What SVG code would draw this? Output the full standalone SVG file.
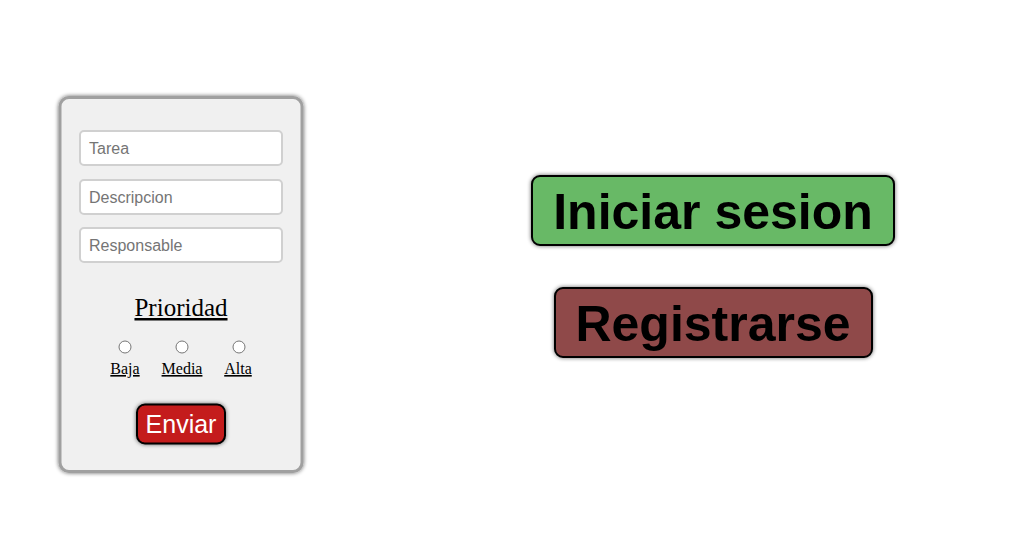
<svg xmlns="http://www.w3.org/2000/svg" width="1028" height="555" viewBox="0 0 1028 555">
<style>
.inp{fill:#fff;stroke:#d0d0d0;stroke-width:2}
.ph{font-family:"Liberation Sans",Arial,sans-serif;font-size:16px;fill:#757575}
.ser{font-family:"Liberation Serif","Times New Roman",serif;fill:#000;text-decoration:underline}
.radio{fill:#fff;stroke:#767676;stroke-width:1}
.btn{stroke:#000;stroke-width:2}
.big{font-family:"Liberation Sans",Arial,sans-serif;font-weight:bold;font-size:50px;fill:#000;text-anchor:middle}
</style>
<defs>
<filter id="sh" x="-20%" y="-20%" width="140%" height="140%">
<feGaussianBlur in="SourceAlpha" stdDeviation="2"/>
<feOffset dx="0" dy="0" result="b"/>
<feComponentTransfer><feFuncA type="linear" slope="0.6"/></feComponentTransfer>
<feMerge><feMergeNode/><feMergeNode in="SourceGraphic"/></feMerge>
</filter>
</defs>
<rect width="1028" height="555" fill="#fff"/>
<g id="card">
<rect x="60" y="97.5" width="242" height="374" rx="9" fill="#f0f0f0" stroke="#a0a0a0" stroke-width="3" filter="url(#sh)"/>
</g>
<g id="input-tarea">
<rect class="inp" x="80" y="131" width="202" height="34" rx="4"/>
<text class="ph" x="89" y="154">Tarea</text>
</g>
<g id="input-descripcion">
<rect class="inp" x="80" y="180" width="202" height="34" rx="4"/>
<text class="ph" x="89" y="203">Descripcion</text>
</g>
<g id="input-responsable">
<rect class="inp" x="80" y="228" width="202" height="34" rx="4"/>
<text class="ph" x="89" y="251">Responsable</text>
</g>
<g id="prioridad">
<text class="ser" x="181" y="316" font-size="25" text-anchor="middle">Prioridad</text>
</g>
<g id="opt-baja">
<circle class="radio" cx="125" cy="347" r="6"/>
<text class="ser" x="125" y="374" font-size="16" text-anchor="middle">Baja</text>
</g>
<g id="opt-media">
<circle class="radio" cx="182" cy="347" r="6"/>
<text class="ser" x="182" y="374" font-size="16" text-anchor="middle">Media</text>
</g>
<g id="opt-alta">
<circle class="radio" cx="239" cy="347" r="6"/>
<text class="ser" x="238" y="374" font-size="16" text-anchor="middle">Alta</text>
</g>
<g id="btn-enviar">
<rect class="btn" x="137" y="404.5" width="88" height="39" rx="8" fill="#c41a1a" filter="url(#sh)"/>
<text x="181" y="433" font-family="Liberation Sans,Arial,sans-serif" font-size="25" fill="#fff" text-anchor="middle">Enviar</text>
</g>
<g id="btn-iniciar">
<rect class="btn" x="532" y="176" width="362" height="69" rx="8" fill="#67b966" filter="url(#sh)"/>
<text class="big" x="713" y="229">Iniciar sesion</text>
</g>
<g id="btn-registrarse">
<rect class="btn" x="555" y="288" width="317" height="69" rx="8" fill="#8f4a4a" filter="url(#sh)"/>
<text class="big" x="713" y="341">Registrarse</text>
</g>
<g id="connectors"/>
</svg>
